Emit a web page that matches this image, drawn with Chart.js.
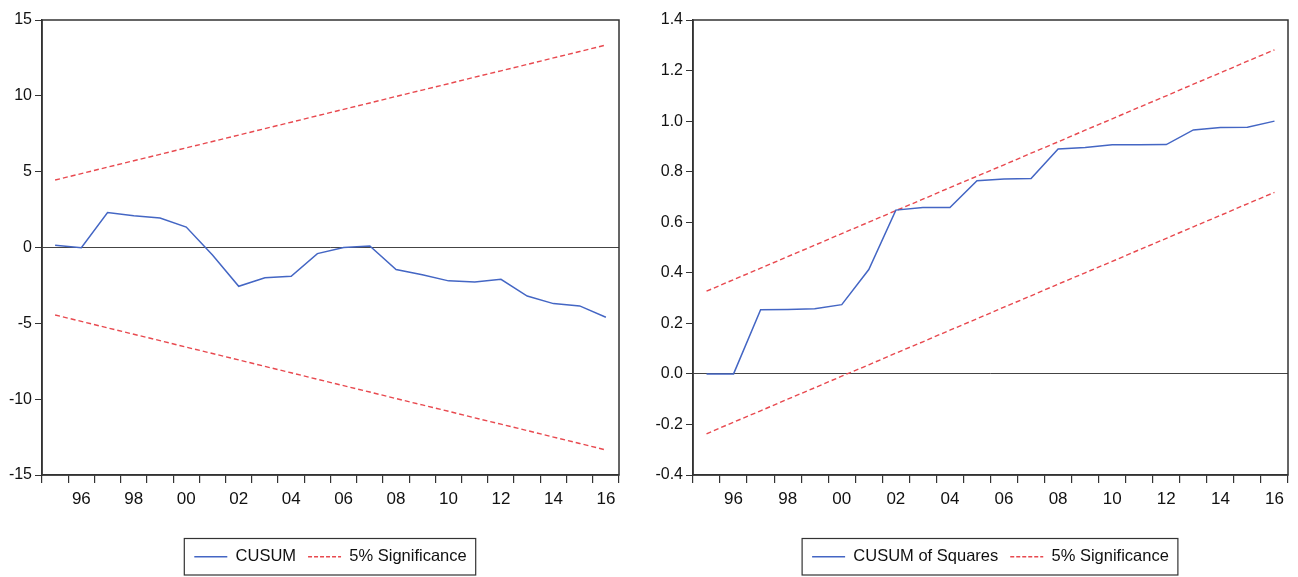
<!DOCTYPE html>
<html>
<head>
<meta charset="utf-8">
<script src="https://cdn.jsdelivr.net/npm/chart.js@4.4.1/dist/chart.umd.min.js"></script>
<style>
  html, body { margin: 0; padding: 0; background: #fff; overflow: hidden; width: 1298px; height: 577px; }
  canvas { position: absolute; top: 0; }
  #cusumChart { left: 0; }
  #squaresChart { left: 645px; }
</style>
</head>
<body>
<canvas id="cusumChart" width="661" height="577"></canvas>
<canvas id="squaresChart" width="653" height="577"></canvas>
<script>
const years = ["1995", "1996", "1997", "1998", "1999", "2000", "2001", "2002", "2003", "2004", "2005",
    "2006", "2007", "2008", "2009", "2010", "2011", "2012", "2013", "2014", "2015", "2016"];

const cusum = [0.15, -0.02, 2.3, 2.1, 1.95, 1.35, -0.5, -2.56, -2.0, -1.9, -0.4,
    0.0, 0.1, -1.45, -1.8, -2.2, -2.27, -2.1, -3.2, -3.7, -3.85, -4.6];
const cusumUpper = [4.45, 4.87, 5.30, 5.72, 6.14, 6.57, 6.99, 7.41, 7.84, 8.26, 8.69,
    9.11, 9.53, 9.96, 10.38, 10.80, 11.23, 11.65, 12.07, 12.50, 12.92, 13.35];
const cusumLower = [-4.45, -4.87, -5.30, -5.72, -6.14, -6.57, -6.99, -7.41, -7.84, -8.26, -8.69,
    -9.11, -9.53, -9.96, -10.38, -10.80, -11.23, -11.65, -12.07, -12.50, -12.92, -13.35];

const cusumSq = [0.0, 0.0, 0.254, 0.255, 0.258, 0.274, 0.413, 0.648, 0.658, 0.658, 0.764,
    0.771, 0.773, 0.890, 0.896, 0.906, 0.906, 0.907, 0.965, 0.975, 0.976, 1.0];
const sqUpper = [0.327, 0.373, 0.418, 0.464, 0.509, 0.555, 0.600, 0.646, 0.691, 0.737, 0.782,
    0.827, 0.873, 0.918, 0.964, 1.009, 1.055, 1.100, 1.146, 1.191, 1.237, 1.282];
const sqLower = [-0.237, -0.191, -0.146, -0.100, -0.055, -0.009, 0.036, 0.082, 0.127, 0.173, 0.218,
    0.264, 0.309, 0.355, 0.400, 0.445, 0.491, 0.536, 0.582, 0.627, 0.673, 0.718];

const blue = "#4466c4";
const red = "#e8494f";
const axisColor = "#333";
const font = "'Liberation Sans', Arial, sans-serif";

// box round the plot and round the legend, legend centred under the plot
const framePlugin = {
    id: "frame",
    afterLayout(chart) {
        const lg = chart.legend;
        const a = chart.chartArea;
        const shift = (a.left + a.right) / 2 - (lg.left + lg.right) / 2;
        lg.left += shift;
        lg.right += shift;
    },
    afterDraw(chart) {
        const { ctx, chartArea: a } = chart;
        ctx.save();
        ctx.strokeStyle = axisColor;
        ctx.lineWidth = 1.5;
        ctx.strokeRect(a.left, a.top, a.right - a.left, a.bottom - a.top);
        const boxes = chart.legend.legendHitBoxes;
        if (boxes && boxes.length) {
            const l = Math.min(...boxes.map(b => b.left)) - 10;
            const r = Math.max(...boxes.map(b => b.left + b.width)) + 9;
            const t = boxes[0].top - 10;
            ctx.lineWidth = 1.2;
            ctx.strokeRect(l, t, r - l, boxes[0].height + 20);
        }
        ctx.restore();
    }
};

const legendLabels = chart =>
    Chart.defaults.plugins.legend.labels.generateLabels(chart)
        .filter(item => item.datasetIndex < 2)
        .map(item => {
            const ds = chart.data.datasets[item.datasetIndex];
            item.strokeStyle = ds.borderColor;
            item.lineWidth = ds.borderWidth;
            item.lineDash = ds.borderDash ? [4, 2] : [];
            return item;
        });

const makeChart = (id, cfg) => {
    const ctx = document.getElementById(id);
    new Chart(ctx, {
        type: "line",
        data: {
            labels: years,
            datasets: [{
                label: cfg.name,
                data: cfg.values,
                borderColor: blue,
                borderWidth: 1.5,
                pointRadius: 0,
            }, {
                label: "5% Significance",
                data: cfg.upper,
                borderColor: red,
                borderWidth: 1.4,
                borderDash: [5, 3],
                pointRadius: 0,
            }, {
                label: "5% Significance",
                data: cfg.lower,
                borderColor: red,
                borderWidth: 1.4,
                borderDash: [5, 3],
                pointRadius: 0,
            }]
        },
        plugins: [framePlugin],
        options: {
            responsive: false,
            animation: false,
            layout: { padding: { top: 20, right: cfg.rightPad, left: 0, bottom: 2 } },
            plugins: {
                tooltip: { enabled: false },
                legend: {
                    position: "bottom",
                    labels: {
                        usePointStyle: true,
                        pointStyle: "line",
                        pointStyleWidth: 33,
                        padding: 12,
                        color: "#111",
                        font: { family: font, size: 16.5 },
                        generateLabels: legendLabels
                    }
                }
            },
            scales: {
                x: {
                    type: "category",
                    offset: true,
                    grid: { offset: true, drawOnChartArea: false, drawTicks: true, tickLength: 8, tickColor: axisColor, lineWidth: 1.2 },
                    border: { display: true, color: axisColor, width: 1.5 },
                    ticks: {
                        autoSkip: false,
                        maxRotation: 0,
                        padding: 6,
                        color: "#111",
                        font: { family: font, size: 17 },
                        callback: (v, i) => Number(years[i]) % 2 === 0 ? years[i].slice(2) : ""
                    },
                    afterFit: scale => { scale.height = 61.5; }
                },
                y: {
                    min: cfg.min,
                    max: cfg.max,
                    grid: {
                        color: c => Math.abs(c.tick.value) < 1e-9 ? "#444" : "rgba(0,0,0,0)",
                        lineWidth: 1,
                        drawTicks: true,
                        tickLength: 7,
                        tickColor: axisColor
                    },
                    border: { display: true, color: axisColor, width: 1.5 },
                    ticks: {
                        stepSize: cfg.step,
                        padding: 3,
                        color: "#111",
                        font: { family: font, size: 16 },
                        callback: cfg.fmt
                    },
                    afterFit: scale => { scale.width = cfg.yWidth; }
                }
            }
        }
    });
};

makeChart("cusumChart", {
    name: "CUSUM",
    values: cusum, upper: cusumUpper, lower: cusumLower,
    min: -15, max: 15, step: 5,
    fmt: v => String(Math.round(v)),
    yWidth: 42, rightPad: 42
});

makeChart("squaresChart", {
    name: "CUSUM of Squares",
    values: cusumSq, upper: sqUpper, lower: sqLower,
    min: -0.4, max: 1.4, step: 0.2,
    fmt: v => Math.abs(v) < 1e-9 ? "0.0" : v.toFixed(1),
    yWidth: 48, rightPad: 10
});
</script>
</body>
</html>
